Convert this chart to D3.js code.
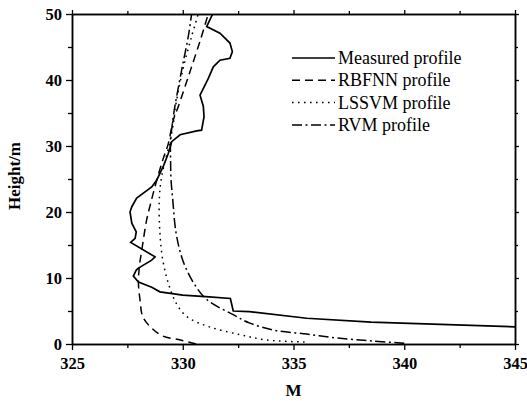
<!DOCTYPE html>
<html>
<head>
<meta charset="utf-8">
<script src="https://cdn.jsdelivr.net/npm/d3@7"></script>
<style>
body { margin: 0; background: #fff; }
svg text { font-family: "Liberation Serif", "Times New Roman", serif; }
</style>
</head>
<body>
<svg id="chart"></svg>
<script>
// values: M along x, height (m) along y
var measuredM = [331.35, 331.08, 331.68, 332.13, 332.24, 332.13, 331.68, 331.38, 331.15, 330.78,
                 330.93, 330.96, 330.85, 330.63, 329.88, 329.5, 329.35, 329.12, 328.82, 328.6,
                 327.92, 327.7, 327.62, 327.7, 327.9, 327.85, 327.65, 328.75, 328.6, 328.0,
                 327.9, 327.77, 328.0, 328.6, 328.97, 330.0, 331.2, 332.15, 332.28, 333.0,
                 335.6, 338.5, 345];
var measuredH = [50, 48.1, 47.1, 45.6, 44.3, 43.3, 43.0, 42.0, 40.2, 37.7,
                 36.0, 34.4, 32.4, 32.3, 31.7, 30.65, 28.9, 26.9, 24.8, 23.8,
                 22.1, 20.8, 20.0, 18.3, 17.0, 16.0, 15.4, 13.2, 12.7, 11.5,
                 11.2, 10.3, 9.4, 8.6, 7.9, 7.4, 7.15, 6.9, 5.0, 4.9,
                 3.9, 3.3, 2.6];

var rbfnnM = [330.6, 329.9, 329.1, 328.6, 328.2, 328.07, 328.0, 328.04, 328.15, 328.37,
              328.55, 328.8, 329.1, 329.35, 329.57, 329.8, 330.33, 330.8, 331.15];
var rbfnnH = [0, 0.6, 1.2, 2.4, 4.1, 6.7, 9.2, 11.7, 14.2, 18.8,
              21.3, 24.5, 27.9, 30.4, 33.9, 36.0, 41.3, 46.1, 50];

var lssvmM = [335.5, 333.8, 332.6, 331.2, 330.2, 329.7, 329.35, 329.1, 328.97, 328.94,
              329.05, 329.4, 329.6, 329.65, 330.0, 330.4, 330.7];
var lssvmH = [0.3, 0.6, 1.4, 2.6, 4.1, 6.2, 9.2, 12.7, 16.8, 21.8,
              25.4, 30.4, 33.9, 35.5, 41.5, 46.6, 50];

var rvmM = [340.0, 338.6, 337.1, 335.6, 334.1, 333.0, 332.3, 331.1, 330.5, 330.0,
            329.7, 329.55, 329.47, 329.45, 329.45, 329.57, 329.95, 330.25, 330.4];
var rvmH = [0.1, 0.45, 0.86, 1.5, 2.1, 3.2, 4.4, 6.7, 9.2, 12.7,
            16.8, 21.8, 25, 28, 30.4, 34.4, 41.5, 46.6, 50];

var seriesNames = ["Measured profile", "RBFNN profile", "LSSVM profile", "RVM profile"];
var xTicks = [325, 330, 335, 340, 345];
var yTicks = [0, 10, 20, 30, 40, 50];

var w = 527, h = 401;
var margin = {top: 14, right: 12, bottom: 57, left: 72};
var font = "'Liberation Serif', 'Times New Roman', serif";

var svg = d3.select("#chart")
    .attr("width", w)
    .attr("height", h);

var x = d3.scaleLinear().domain([325, 345]).range([margin.left, w - margin.right]);
var y = d3.scaleLinear().domain([0, 50]).range([h - margin.bottom, margin.top]);

svg.append("clipPath").attr("id", "plot")
   .append("rect")
   .attr("x", margin.left).attr("y", margin.top)
   .attr("width", w - margin.left - margin.right)
   .attr("height", h - margin.top - margin.bottom);

var minorX = d3.range(327.5, 345, 5);
var minorY = d3.range(5, 50, 10);

// minor ticks first, majors on top
function addAxis(axis, transform, labels) {
    var g = svg.append("g").attr("transform", transform).call(axis);
    g.attr("font-family", null);
    g.selectAll("path").attr("stroke-width", 1.5);
    g.selectAll("line").attr("stroke-width", 1.3);
    if (!labels) g.selectAll("text").remove();
    return g;
}

addAxis(d3.axisBottom(x).tickValues(minorX).tickSize(4).tickSizeOuter(0), "translate(0," + y(0) + ")", false);
addAxis(d3.axisTop(x).tickValues(minorX).tickSize(3).tickSizeOuter(0), "translate(0," + y(50) + ")", false);
addAxis(d3.axisLeft(y).tickValues(minorY).tickSize(4).tickSizeOuter(0), "translate(" + x(325) + ",0)", false);
addAxis(d3.axisRight(y).tickValues(minorY).tickSize(3).tickSizeOuter(0), "translate(" + x(345) + ",0)", false);

var gx = addAxis(d3.axisBottom(x).tickValues(xTicks).tickSize(6).tickSizeOuter(0).tickPadding(7),
                 "translate(0," + y(0) + ")", true);
addAxis(d3.axisTop(x).tickValues(xTicks).tickSize(4).tickSizeOuter(0), "translate(0," + y(50) + ")", false);
var gy = addAxis(d3.axisLeft(y).tickValues(yTicks).tickSize(6).tickSizeOuter(0).tickPadding(4),
                 "translate(" + x(325) + ",0)", true);
addAxis(d3.axisRight(y).tickValues(yTicks).tickSize(4).tickSizeOuter(0), "translate(" + x(345) + ",0)", false);

[gx, gy].forEach(function(g) {
    g.selectAll("text")
     .style("font-family", font)
     .style("font-weight", "bold")
     .style("font-size", "16.5px")
     .attr("fill", "#000");
});

// axis titles
svg.append("text")
   .attr("x", (x(325) + x(345)) / 2)
   .attr("y", 396)
   .attr("text-anchor", "middle")
   .style("font-family", font)
   .style("font-weight", "bold")
   .style("font-size", "17px")
   .text("M");

svg.append("text")
   .attr("transform", "translate(20," + (y(25) - 3) + ") rotate(-90)")
   .attr("text-anchor", "middle")
   .style("font-family", font)
   .style("font-weight", "bold")
   .style("font-size", "17px")
   .text("Height/m");

var dashes = [null, "8,5", "1.6,4.4", "10,3.5,2,3.5"];
var series = [
    {m: measuredM, h: measuredH, curve: d3.curveLinear},
    {m: rbfnnM, h: rbfnnH, curve: d3.curveCatmullRom},
    {m: lssvmM, h: lssvmH, curve: d3.curveCatmullRom},
    {m: rvmM, h: rvmH, curve: d3.curveCatmullRom}
];

var plot = svg.append("g").attr("clip-path", "url(#plot)");

series.forEach(function(s, i) {
    var pts = s.m.map(function(v, j) { return [v, s.h[j]]; });
    var line = d3.line()
        .x(function(d) { return x(d[0]); })
        .y(function(d) { return y(d[1]); })
        .curve(s.curve);
    plot.append("path")
        .datum(pts)
        .attr("d", line)
        .attr("fill", "none")
        .attr("stroke", "#000")
        .attr("stroke-width", i === 0 ? 1.7 : 1.5)
        .attr("stroke-dasharray", dashes[i]);
});

// legend
var legend = svg.append("g");
seriesNames.forEach(function(name, i) {
    var ly = 58 + i * 22.3;
    legend.append("line")
        .attr("x1", 292).attr("x2", 335)
        .attr("y1", ly).attr("y2", ly)
        .attr("stroke", "#000")
        .attr("stroke-width", i === 0 ? 1.7 : 1.5)
        .attr("stroke-dasharray", dashes[i]);
    legend.append("text")
        .attr("x", 338)
        .attr("y", ly + 6)
        .style("font-family", font)
        .style("font-size", "18px")
        .text(name);
});
</script>
</body>
</html>
